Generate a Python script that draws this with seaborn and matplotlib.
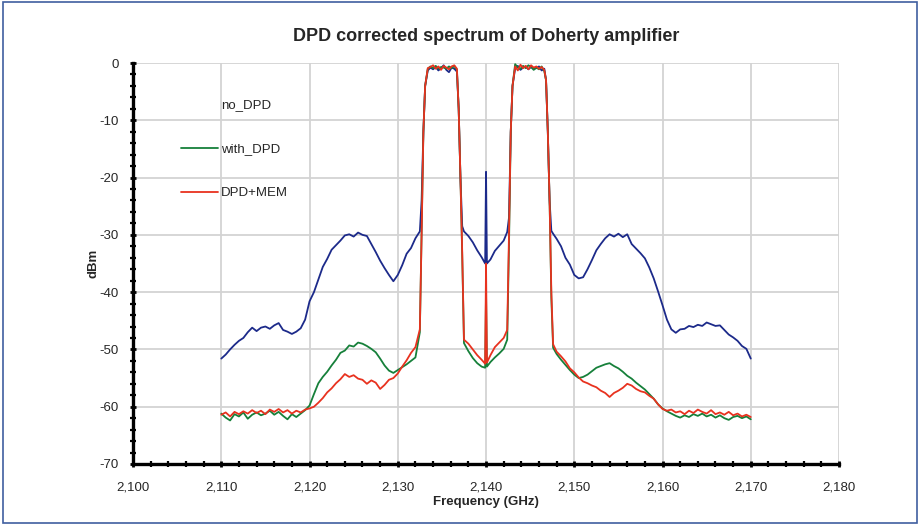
import matplotlib
matplotlib.use('Agg')
import matplotlib.pyplot as plt
import matplotlib.ticker as mticker
from matplotlib.patches import Rectangle
import pandas as pd
import seaborn as sns

# Frequency points (MHz, axis labelled GHz as in the source chart)
freq = [
    2110.0, 2110.5, 2111.0, 2111.5, 2112.0, 2112.5, 2113.0, 2113.5, 2114.0, 2114.5,
    2115.0, 2115.5, 2116.0, 2116.5, 2117.0, 2117.5, 2118.0, 2118.5, 2119.0, 2119.5,
    2120.0, 2120.5, 2121.0, 2121.5, 2122.0, 2122.5, 2123.0, 2123.5, 2124.0, 2124.5,
    2125.0, 2125.5, 2126.0, 2126.5, 2127.0, 2127.5, 2128.0, 2128.5, 2129.0, 2129.5,
    2130.0, 2130.5, 2131.0, 2131.5, 2132.0, 2132.5, 2132.7, 2132.9, 2133.1, 2133.4,
    2133.7, 2134.0, 2134.3, 2134.6, 2134.9, 2135.2, 2135.5, 2135.8, 2136.1, 2136.4,
    2136.7, 2136.9, 2137.1, 2137.3, 2137.5, 2138.0, 2138.5, 2139.0, 2139.5, 2139.9,
    2140.0, 2140.1, 2140.5, 2141.0, 2141.5, 2142.0, 2142.4, 2142.6, 2142.8, 2143.0,
    2143.3, 2143.6, 2143.9, 2144.2, 2144.5, 2144.8, 2145.1, 2145.4, 2145.7, 2146.0,
    2146.3, 2146.6, 2146.8, 2147.0, 2147.2, 2147.4, 2147.6, 2148.0, 2148.5, 2149.0,
    2149.5, 2150.0, 2150.5, 2151.0, 2151.5, 2152.0, 2152.5, 2153.0, 2153.5, 2154.0,
    2154.5, 2155.0, 2155.5, 2156.0, 2156.5, 2157.0, 2157.5, 2158.0, 2158.5, 2159.0,
    2159.5, 2160.0, 2160.5, 2161.0, 2161.5, 2162.0, 2162.5, 2163.0, 2163.5, 2164.0,
    2164.5, 2165.0, 2165.5, 2166.0, 2166.5, 2167.0, 2167.5, 2168.0, 2168.5, 2169.0,
    2169.5, 2170.0,
]

no_dpd = [
    -51.6, -50.9, -50.0, -49.2, -48.5, -48.0, -47.0, -46.2, -46.8, -46.2,
    -46.0, -46.4, -45.8, -45.4, -46.6, -46.9, -47.3, -46.9, -46.3, -44.8,
    -41.6, -40.0, -37.8, -35.6, -34.2, -32.6, -31.8, -31.0, -30.1, -29.9,
    -30.3, -29.6, -30.0, -30.2, -31.6, -33.0, -34.5, -35.8, -37.0, -38.1,
    -37.0, -35.3, -33.3, -32.3, -30.6, -29.4, -24.0, -12.0, -4.0, -1.3,
    -0.8, -1.1, -0.7, -1.3, -0.9, -0.4, -1.2, -1.6, -0.8, -1.0,
    -1.5, -8.0, -20.0, -28.5, -29.4, -30.2, -31.3, -32.7, -33.9, -35.0,
    -19.0, -35.0, -34.3, -32.8, -31.9, -31.0, -29.5, -27.0, -12.0, -4.0,
    -0.9, -0.5, -1.2, -0.8, -0.6, -1.1, -0.7, -1.0, -0.9, -0.6,
    -1.3, -1.0, -3.0, -12.0, -24.0, -29.3, -29.8, -30.7, -32.0, -34.0,
    -35.2, -37.0, -37.6, -37.4, -36.0, -34.4, -32.7, -31.6, -30.6, -29.9,
    -30.3, -29.8, -30.4, -29.9, -31.6, -32.4, -33.2, -34.1, -35.7, -37.6,
    -39.9, -42.3, -44.8, -46.5, -47.1, -46.5, -46.4, -45.9, -46.1, -45.7,
    -45.9, -45.3, -45.6, -45.9, -45.8, -46.6, -47.4, -47.9, -48.5, -49.4,
    -49.9, -51.6,
]

with_dpd = [
    -61.2, -61.9, -62.4, -61.3, -61.7, -61.0, -62.1, -61.4, -61.0, -61.5,
    -61.2, -60.7, -61.4, -60.9, -61.6, -62.2, -61.3, -61.8, -61.2, -60.6,
    -59.8, -57.8, -55.9, -54.8, -53.9, -52.8, -51.8, -50.6, -50.2, -49.3,
    -49.5, -48.8, -49.0, -49.4, -49.9, -50.5, -51.6, -52.8, -53.7, -54.1,
    -53.6, -53.1, -52.6, -52.0, -51.4, -47.0, -30.0, -12.0, -4.0, -1.0,
    -0.6, -0.9, -0.5, -1.0, -0.7, -0.8, -1.0, -0.6, -0.9, -0.5,
    -1.2, -8.0, -20.0, -33.5, -48.9, -50.3, -51.5, -52.4, -53.0, -53.2,
    -40.0, -53.0, -52.2, -51.4, -50.7, -49.9, -48.3, -32.0, -12.0, -4.0,
    -0.2, -0.8, -1.0, -0.5, -0.9, -0.4, -0.7, -1.2, -0.8, -1.1,
    -0.6, -1.4, -3.0, -12.0, -24.0, -41.0, -49.7, -50.8, -51.8, -52.7,
    -53.6, -54.4, -55.0, -54.8, -54.4, -53.8, -53.2, -52.9, -52.6, -52.4,
    -52.9, -53.3, -53.9, -54.6, -55.1, -55.8, -56.4, -57.0, -57.8, -58.6,
    -59.6, -60.3, -60.8, -61.2, -61.6, -61.9, -61.5, -61.8, -61.3, -61.6,
    -61.2, -61.7, -61.4, -61.9, -61.5, -62.0, -62.3, -61.8, -61.6, -62.0,
    -61.7, -62.2,
]

dpd_mem = [
    -61.4, -61.0, -61.7, -60.9, -61.3, -60.8, -61.2, -60.6, -61.1, -60.7,
    -61.3, -60.5, -60.9, -60.4, -61.0, -60.6, -61.2, -60.7, -61.0, -60.5,
    -60.3, -60.0, -59.3, -58.5, -57.5, -56.8, -55.9, -55.2, -54.3, -54.8,
    -54.5, -55.1, -55.3, -56.0, -55.4, -55.8, -56.9, -56.2, -55.3, -55.0,
    -54.2, -53.0, -51.9, -50.6, -49.6, -46.5, -30.0, -12.0, -4.0, -0.9,
    -0.7, -0.4, -1.0, -0.6, -1.2, -0.5, -0.8, -1.1, -0.6, -0.4,
    -1.0, -8.0, -20.0, -33.0, -48.3, -49.0, -50.0, -51.0, -51.8, -52.5,
    -35.0, -52.3, -51.0, -49.6, -48.8, -48.0, -46.6, -30.0, -12.0, -4.0,
    -0.6, -1.3, -0.3, -0.9, -0.5, -1.1, -0.4, -0.8, -0.6, -1.0,
    -0.7, -1.2, -3.0, -12.0, -24.0, -40.0, -49.1, -50.4, -51.2, -52.1,
    -53.3, -54.0, -54.9, -55.6, -55.9, -56.3, -56.6, -57.2, -57.6, -58.3,
    -57.6, -57.2, -56.7, -56.0, -56.3, -56.9, -57.3, -57.5, -58.1, -58.6,
    -59.6, -60.4, -60.7, -60.5, -61.0, -60.8, -61.3, -60.7, -61.1, -60.5,
    -60.9, -61.2, -60.6, -61.3, -61.0, -61.4, -60.9, -61.5, -61.2, -61.7,
    -61.4, -61.8,
]

df = pd.DataFrame({'freq': freq, 'no_DPD': no_dpd, 'with_DPD': with_dpd, 'DPD+MEM': dpd_mem})

sns.set_style('white')
plt.rcParams['font.family'] = ['Liberation Sans', 'DejaVu Sans']
plt.rcParams['axes.unicode_minus'] = False

fig = plt.figure(figsize=(9.2, 5.25), dpi=100)
ax = fig.add_axes([0.1446, 0.1162, 0.7674, 0.7638])

colors = {'no_DPD': '#1c2a8a', 'with_DPD': '#16803a', 'DPD+MEM': '#e8321f'}
for name in ['no_DPD', 'with_DPD', 'DPD+MEM']:
    sns.lineplot(data=df, x='freq', y=name, ax=ax, color=colors[name], label=name,
                 linewidth=1.3, sort=False, estimator=None)

ax.set_xlim(2100, 2180)
ax.set_ylim(-70, 0)
ax.xaxis.set_major_locator(mticker.MultipleLocator(10))
ax.xaxis.set_minor_locator(mticker.MultipleLocator(2))
ax.yaxis.set_major_locator(mticker.MultipleLocator(10))
ax.yaxis.set_minor_locator(mticker.MultipleLocator(2))
ax.xaxis.set_major_formatter(mticker.FuncFormatter(lambda v, p: f'{v:,.0f}'))

ax.grid(True, which='major', color='#d3d3d3', linewidth=1.3)
ax.set_axisbelow(True)
for s in ['top', 'right']:
    ax.spines[s].set_visible(False)
for s in ['left', 'bottom']:
    ax.spines[s].set_color('black')
    ax.spines[s].set_linewidth(2.4)

ax.tick_params(which='both', bottom=True, left=True)
ax.tick_params(which='major', direction='inout', length=5, width=2, color='black',
               labelsize=9.5, pad=8)
ax.tick_params(which='minor', direction='inout', length=4, width=1.6, color='black')
ax.tick_params(axis='x', which='major', pad=10)

ax.set_title('DPD corrected spectrum of Doherty amplifier', fontsize=13, fontweight='bold', pad=16)
ax.set_xlabel('Frequency (GHz)', fontsize=9.5, fontweight='bold', labelpad=2)
ax.set_ylabel('dBm', fontsize=9.5, fontweight='bold', labelpad=0)

leg = ax.legend(loc='upper left', bbox_to_anchor=(0.068, 0.91), frameon=False,
                fontsize=9.5, handlelength=2.8, handletextpad=0.25, labelspacing=2.4,
                borderpad=0, borderaxespad=0)
leg.get_lines()[0].set_visible(False)

fig.patches.append(Rectangle((0.003, 0.003), 0.994, 0.994, transform=fig.transFigure,
                             fill=False, edgecolor='#3f5f9f', linewidth=1.2))

fig.savefig('out.png', dpi=100)
